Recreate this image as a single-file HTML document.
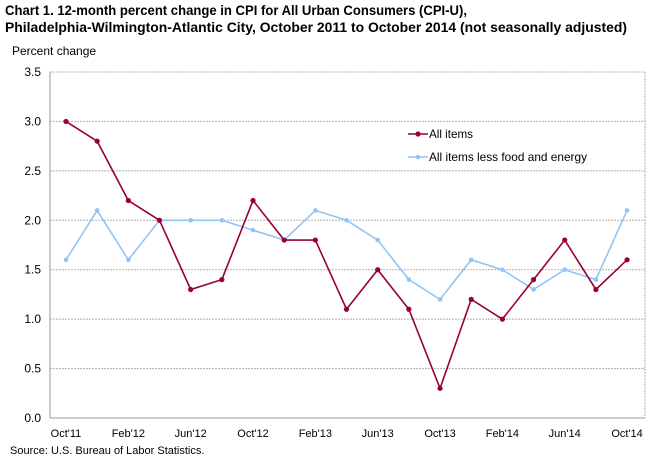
<!DOCTYPE html>
<html><head><meta charset="utf-8"><style>
body{margin:0;background:#fff;width:650px;height:465px;overflow:hidden;font-family:"Liberation Sans",Arial,sans-serif}
</style></head><body>
<svg id="s" width="650" height="465" xmlns="http://www.w3.org/2000/svg" font-family="Liberation Sans, Arial, sans-serif">
<text x="5" y="15" font-size="13.5" font-weight="bold" fill="#000" textLength="462" lengthAdjust="spacingAndGlyphs">Chart 1. 12-month percent change in CPI for All Urban Consumers (CPI-U),</text>
<text x="5" y="32" font-size="13.5" font-weight="bold" fill="#000" textLength="622" lengthAdjust="spacingAndGlyphs">Philadelphia-Wilmington-Atlantic City, October 2011 to October 2014 (not seasonally adjusted)</text>
<text x="12" y="55" font-size="12" fill="#000">Percent change</text>
<text x="10" y="454" font-size="11" fill="#000">Source: U.S. Bureau of Labor Statistics.</text>
<g id="g"></g>
</svg>
<script>
var g=document.getElementById('g'),h='';
var L=50,R=645,T=72,B=418;
function y(v){return B-(B-T)*v/3.5}
function x(i){return 66+i*31.17}
for(var k=0;k<=7;k++){var v=k*0.5,yy=y(v);
 if(k>0)h+='<line x1="'+L+'" x2="'+R+'" y1="'+yy+'" y2="'+yy+'" stroke="#b0b0b0" stroke-width="1" stroke-dasharray="2,1"/>';
 h+='<text x="41" y="'+(yy+4)+'" font-size="12" text-anchor="end">'+v.toFixed(1)+'</text>';}
h+='<line x1="'+L+'" x2="'+L+'" y1="'+T+'" y2="'+B+'" stroke="#999"/>';
h+='<line x1="'+L+'" x2="'+R+'" y1="'+B+'" y2="'+B+'" stroke="#999"/>';
h+='<line x1="'+R+'" x2="'+R+'" y1="'+T+'" y2="'+B+'" stroke="#b0b0b0" stroke-dasharray="2,1"/>';
var lab=["Oct'11","Feb'12","Jun'12","Oct'12","Feb'13","Jun'13","Oct'13","Feb'14","Jun'14","Oct'14"];
for(var i=0;i<10;i++)h+='<text x="'+x(i*2)+'" y="437" font-size="11" text-anchor="middle">'+lab[i]+'</text>';
var a=[3.0,2.8,2.2,2.0,1.3,1.4,2.2,1.8,1.8,1.1,1.5,1.1,0.3,1.2,1.0,1.4,1.8,1.3,1.6];
var b=[1.6,2.1,1.6,2.0,2.0,2.0,1.9,1.8,2.1,2.0,1.8,1.4,1.2,1.6,1.5,1.3,1.5,1.4,2.1];
function ser(d,c,r){var p=d.map(function(v,i){return x(i)+','+y(v)}).join(' ');
 var s='<polyline points="'+p+'" fill="none" stroke="'+c+'" stroke-width="1.6"/>';
 d.forEach(function(v,i){s+='<circle cx="'+x(i)+'" cy="'+y(v)+'" r="'+r+'" fill="'+c+'"/>'});return s;}
h+=ser(b,'#92c5f5',2.3);
h+=ser(a,'#990033',2.6);
h+='<line x1="408" x2="428" y1="134" y2="134" stroke="#990033" stroke-width="1.6"/><circle cx="418" cy="134" r="2.6" fill="#990033"/>';
h+='<text x="429" y="138" font-size="12" textLength="44" lengthAdjust="spacingAndGlyphs">All items</text>';
h+='<line x1="408" x2="428" y1="157" y2="157" stroke="#92c5f5" stroke-width="1.6"/><circle cx="418" cy="157" r="2.3" fill="#92c5f5"/>';
h+='<text x="429" y="161" font-size="12" textLength="158" lengthAdjust="spacingAndGlyphs">All items less food and energy</text>';
g.innerHTML=h;
</script>
</body></html>
